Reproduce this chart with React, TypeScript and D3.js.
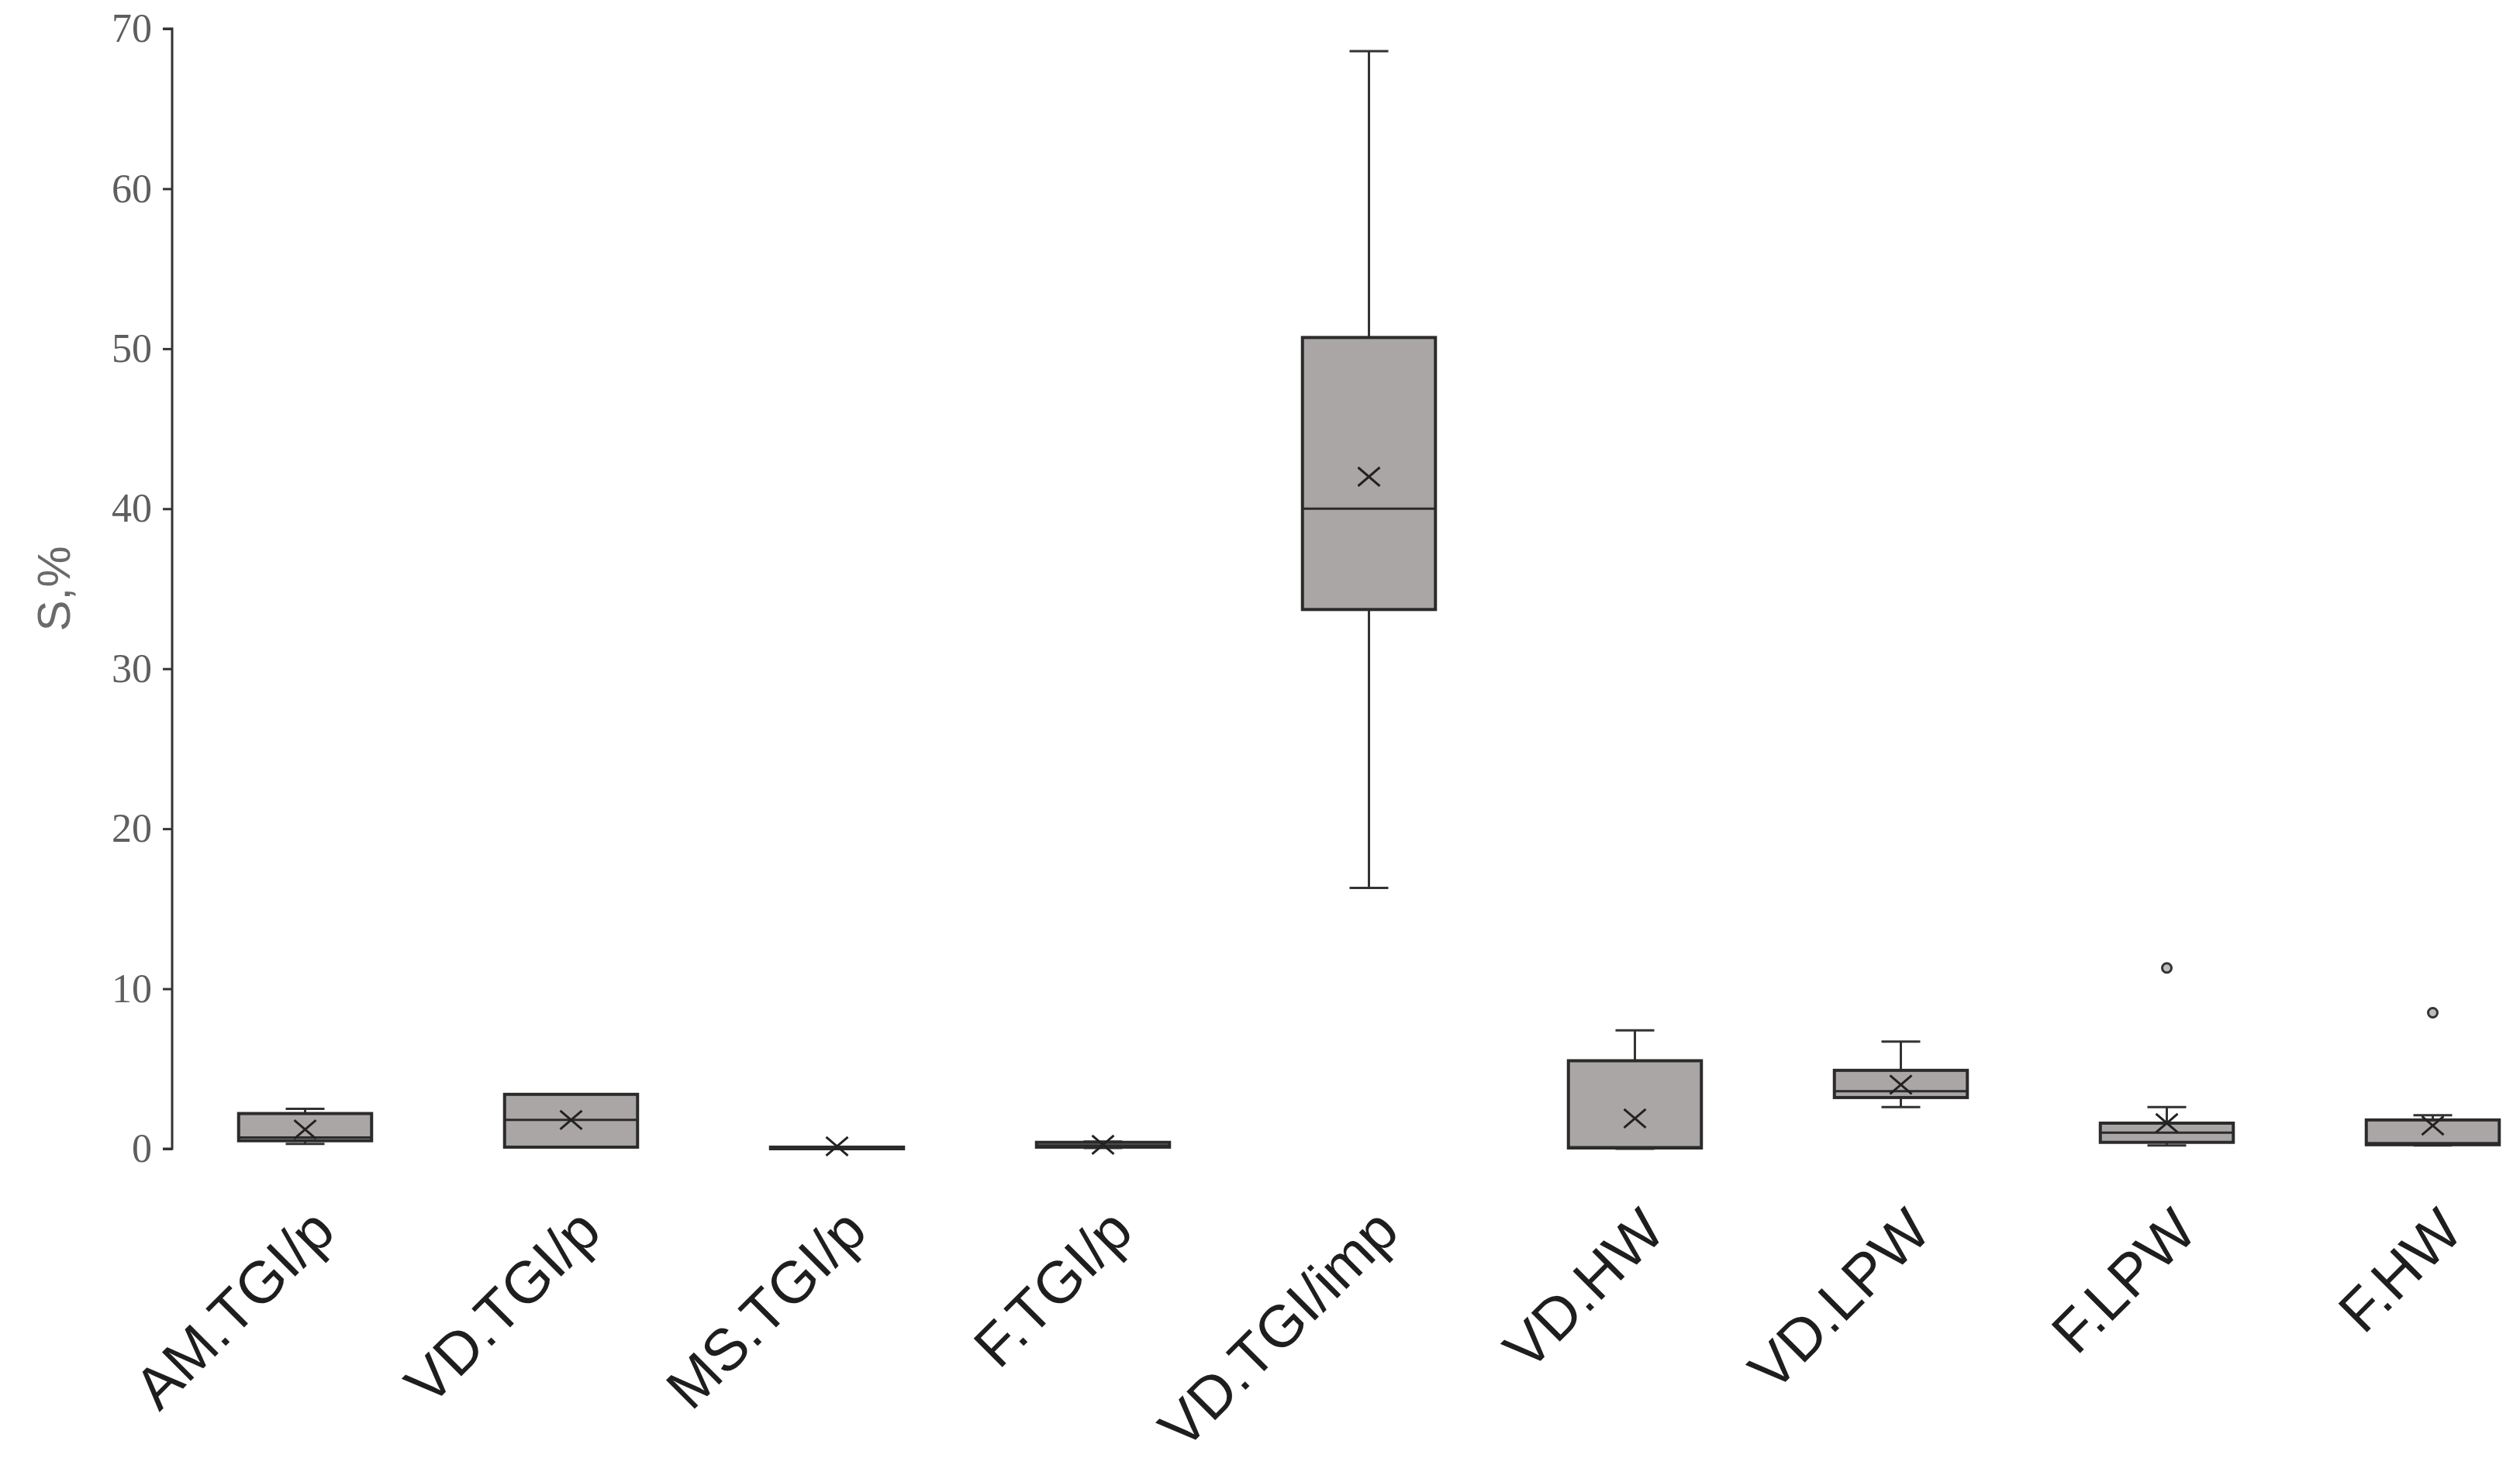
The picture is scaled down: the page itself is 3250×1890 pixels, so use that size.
import React, { useRef, useEffect } from 'react';
import * as d3 from 'd3';

const categories = ['AM.TGI/p', 'VD.TGI/p', 'MS.TGI/p', 'F.TGI/p', 'VD.TGI/imp', 'VD.HW', 'VD.LPW', 'F.LPW', 'F.HW'];
const whiskerLow = [0.3, 0.1, 0, 0.05, 16.3, 0, 2.6, 0.2, 0.2];
const q1 = [0.5, 0.1, 0, 0.1, 33.7, 0.05, 3.2, 0.4, 0.25];
const medians = [0.7, 1.8, 0.05, 0.2, 40.0, 0.1, 3.6, 1.0, 0.35];
const q3 = [2.2, 3.4, 0.1, 0.4, 50.7, 5.5, 4.9, 1.6, 1.8];
const whiskerHigh = [2.5, 3.4, 0.1, 0.45, 68.6, 7.4, 6.7, 2.6, 2.1];
const means = [1.2, 1.8, 0.15, 0.25, 42.0, 1.9, 4.0, 1.6, 1.45];
const outliers = [[], [], [], [], [], [], [], [11.3], [8.5]];
const yTicks = [0, 10, 20, 30, 40, 50, 60, 70];

const width = 3250;
const height = 1890;

const BoxPlot = () => {
  const svgRef = useRef(null);

  useEffect(() => {
    const svg = d3.select(svgRef.current);
    svg.selectAll('*').remove();

    const axisX = 222;
    const step = 343;

    const xScale = d3
      .scaleBand()
      .domain(categories)
      .range([axisX, axisX + step * 9])
      .paddingInner(0.5)
      .paddingOuter(0.25);

    const yScale = d3.scaleLinear().domain([0, 70]).range([1482, 37]);

    // y axis
    const yAxis = d3.axisLeft(yScale).tickValues(yTicks).tickSize(12).tickPadding(14);
    const gy = svg.append('g').attr('transform', `translate(${axisX},0)`).call(yAxis);
    gy.select('.domain').attr('stroke', '#333').attr('stroke-width', 3).attr('d', `M-12,${yScale(70)}H0V${yScale(0)}H-12`);
    gy.selectAll('.tick line').attr('stroke', '#333').attr('stroke-width', 3);
    gy.selectAll('.tick text')
      .attr('fill', '#5e5e5e')
      .style('font-family', '"Liberation Serif", serif')
      .style('font-size', '52px');

    svg
      .append('text')
      .attr('transform', `translate(90,${(yScale(0) + yScale(70)) / 2}) rotate(-90)`)
      .attr('text-anchor', 'middle')
      .attr('fill', '#6a6a6a')
      .style('font-family', '"Liberation Sans", Arial, sans-serif')
      .style('font-size', '60px')
      .text('S,%');

    const bw = xScale.bandwidth();
    const capW = 50;

    categories.forEach((c, i) => {
      const g = svg.append('g');
      const cx = xScale(c) + bw / 2;

      // whiskers
      if (whiskerHigh[i] > q3[i]) {
        g.append('line')
          .attr('x1', cx).attr('x2', cx)
          .attr('y1', yScale(q3[i])).attr('y2', yScale(whiskerHigh[i]))
          .attr('stroke', '#333').attr('stroke-width', 3);
        g.append('line')
          .attr('x1', cx - capW / 2).attr('x2', cx + capW / 2)
          .attr('y1', yScale(whiskerHigh[i])).attr('y2', yScale(whiskerHigh[i]))
          .attr('stroke', '#333').attr('stroke-width', 3);
      }
      if (whiskerLow[i] < q1[i]) {
        g.append('line')
          .attr('x1', cx).attr('x2', cx)
          .attr('y1', yScale(q1[i])).attr('y2', yScale(whiskerLow[i]))
          .attr('stroke', '#333').attr('stroke-width', 3);
        g.append('line')
          .attr('x1', cx - capW / 2).attr('x2', cx + capW / 2)
          .attr('y1', yScale(whiskerLow[i])).attr('y2', yScale(whiskerLow[i]))
          .attr('stroke', '#333').attr('stroke-width', 3);
      }

      // box
      g.append('rect')
        .attr('x', xScale(c))
        .attr('y', yScale(q3[i]))
        .attr('width', bw)
        .attr('height', Math.max(0, yScale(q1[i]) - yScale(q3[i])))
        .attr('fill', '#aaa6a6')
        .attr('stroke', '#2b2b2b')
        .attr('stroke-width', 4);

      g.append('line')
        .attr('x1', xScale(c)).attr('x2', xScale(c) + bw)
        .attr('y1', yScale(medians[i])).attr('y2', yScale(medians[i]))
        .attr('stroke', '#2b2b2b').attr('stroke-width', 3);

      // mean marker
      const my = yScale(means[i]);
      const mw = 14;
      const mh = 12;
      g.append('path')
        .attr('d', `M${cx - mw},${my - mh}L${cx + mw},${my + mh}M${cx - mw},${my + mh}L${cx + mw},${my - mh}`)
        .attr('stroke', '#222')
        .attr('stroke-width', 3)
        .attr('fill', 'none');

      // outliers
      outliers[i].forEach(v => {
        g.append('circle')
          .attr('cx', cx)
          .attr('cy', yScale(v))
          .attr('r', 6)
          .attr('fill', '#bdbdbd')
          .attr('stroke', '#333')
          .attr('stroke-width', 3);
      });
    });

    // category labels
    svg
      .append('g')
      .selectAll('text')
      .data(categories)
      .enter()
      .append('text')
      .attr('transform', d => `translate(${xScale(d) + bw / 2 + 42},1592) rotate(-45)`)
      .attr('text-anchor', 'end')
      .attr('fill', '#1e1e1e')
      .style('font-family', '"Liberation Sans", Arial, sans-serif')
      .style('font-size', '76px')
      .text(d => d);
  }, []);

  return (
    <svg
      ref={svgRef}
      width={width}
      height={height}
      style={{ position: 'absolute', left: 0, top: 0, background: '#fff' }}
    />
  );
};

export default function App() {
  return <BoxPlot />;
}
